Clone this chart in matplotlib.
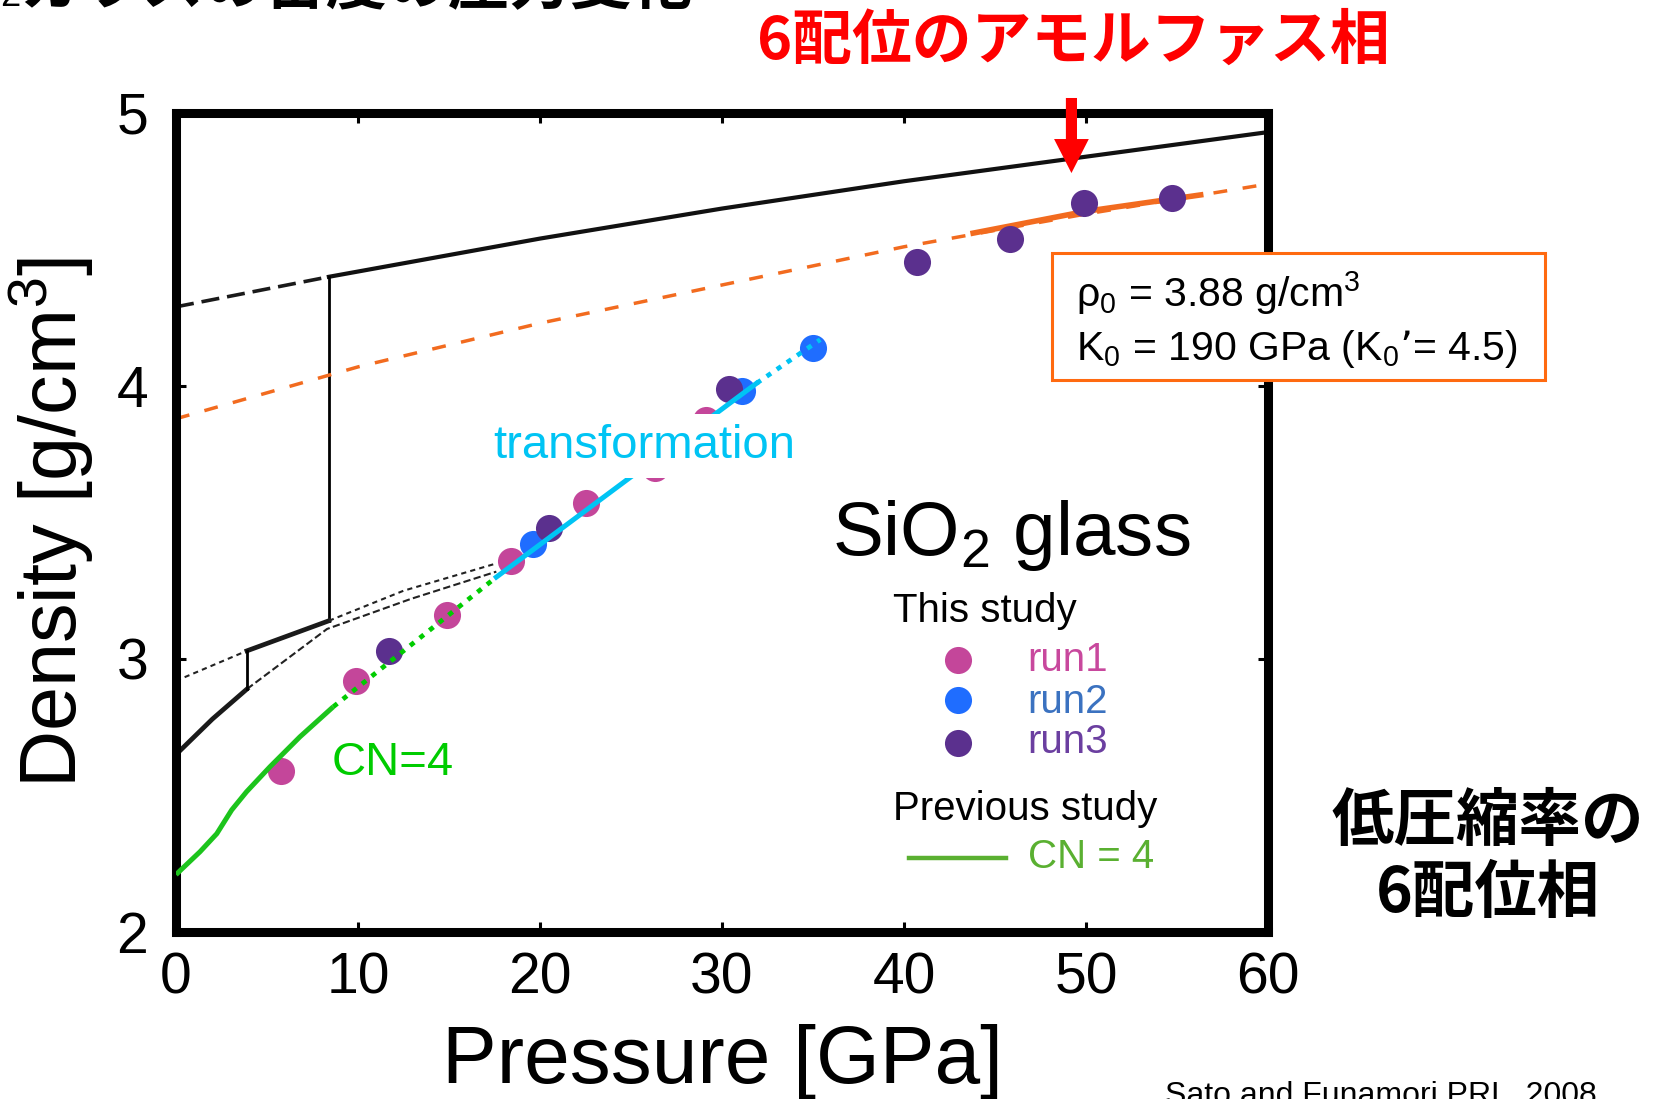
import matplotlib
matplotlib.use("Agg")
import matplotlib.pyplot as plt
from matplotlib.patches import Rectangle

plt.rcParams['font.family'] = ['Liberation Sans', 'Noto Sans CJK JP', 'DejaVu Sans']
plt.rcParams['mathtext.default'] = 'regular'

# ---- data ----
# this study, pressure [GPa] / density [g/cm3]
run1_p = [5.75, 9.9, 14.9, 18.4, 22.5, 26.3, 29.1]
run1_rho = [2.59, 2.92, 3.16, 3.36, 3.57, 3.70, 3.875]
run2_p = [19.6, 31.1, 35.0]
run2_rho = [3.42, 3.98, 4.14]
run3_p = [11.7, 20.5, 30.4, 40.7, 45.8, 49.9, 54.7]
run3_rho = [3.03, 3.48, 3.99, 4.455, 4.54, 4.67, 4.69]

# previous study CN=4 (solid) and its extension (dotted)
cn4_p = [0, 0.26, 1.32, 2.24, 3.06, 3.88, 5.16, 6.81, 8.64]
cn4_rho = [2.21, 2.227, 2.294, 2.36, 2.447, 2.514, 2.605, 2.715, 2.825]
cn4_ext_p = [8.64, 17.6]
cn4_ext_rho = [2.825, 3.30]

# transformation line
trans_p = [17.6, 31.9]
trans_rho = [3.30, 4.01]
trans_ext_p = [31.9, 35.4]
trans_ext_rho = [4.01, 4.17]

# 6-fold amorphous EOS (rho0 = 3.88, K0 = 190)
eos_p = [0, 10, 20, 30, 40, 50, 60]
eos_rho = [3.88, 4.07, 4.23, 4.37, 4.51, 4.63, 4.74]
eos_fit_p = [43.8, 50, 56.3]
eos_fit_rho = [4.56, 4.64, 4.70]

# black reference curves
top_dash_p = [0, 8.4]
top_dash_rho = [4.29, 4.40]
top_p = [8.4, 20, 30, 40, 50, 60]
top_rho = [4.40, 4.54, 4.65, 4.75, 4.84, 4.93]
jump_hi_p = [8.4, 8.4]
jump_hi_rho = [3.14, 4.40]

a_dash1_p = [0, 3.9]
a_dash1_rho = [2.92, 3.03]
a_solid_p = [3.9, 8.4]
a_solid_rho = [3.03, 3.14]
a_dash2_p = [8.4, 12.5, 17.6]
a_dash2_rho = [3.14, 3.25, 3.35]

b_solid_p = [0, 2.0, 3.9]
b_solid_rho = [2.65, 2.78, 2.89]
b_dash_p = [3.9, 8.3, 12.9, 17.6]
b_dash_rho = [2.89, 3.11, 3.22, 3.32]
jump_lo_p = [3.9, 3.9]
jump_lo_rho = [2.89, 3.03]

arrow_p = 49.2
arrow_rho = (4.78, 5.055)

# ---- colours ----
c_run1 = '#C4469A'
c_run2 = '#1F6DFF'
c_run3 = '#5B308E'
c_green = '#1CC41C'
c_cyan = '#00C4F4'
c_orange = '#F26B1F'

W, H = 1667, 1099


def fx(x):
    return x / W


def fy(y):
    return 1 - y / H


fig = plt.figure(figsize=(W / 100, H / 100), dpi=100)
ax = fig.add_axes([176 / W, 1 - 932 / H, 1092 / W, 819 / H])

# black curves
ax.plot(top_dash_p, top_dash_rho, color='#1a1a1a', lw=2.6, dashes=(5, 2.2))
ax.plot(top_p, top_rho, color='#111111', lw=3.0)
ax.plot(jump_hi_p, jump_hi_rho, color='black', lw=2.0)
ax.plot(a_dash1_p, a_dash1_rho, color='#222222', lw=1.5, dashes=(2.5, 2))
ax.plot(a_solid_p, a_solid_rho, color='#1a1a1a', lw=3.4)
ax.plot(a_dash2_p, a_dash2_rho, color='#222222', lw=1.5, dashes=(2.5, 2))
ax.plot(b_solid_p, b_solid_rho, color='#1a1a1a', lw=3.4)
ax.plot(b_dash_p, b_dash_rho, color='#222222', lw=1.5, dashes=(3.5, 1.6))
ax.plot(jump_lo_p, jump_lo_rho, color='black', lw=2.0)

# orange EOS
ax.plot(eos_p, eos_rho, color=c_orange, lw=2.5, dashes=(4, 4.5))
ax.plot(eos_fit_p, eos_fit_rho, color=c_orange, lw=4.0)

# data points
ms = 19.5
ax.plot(run1_p, run1_rho, 'o', color=c_run1, ms=ms, mec='none', zorder=3)
ax.plot(run2_p, run2_rho, 'o', color=c_run2, ms=ms, mec='none', zorder=3)
ax.plot(run3_p, run3_rho, 'o', color=c_run3, ms=ms, mec='none', zorder=3)

# green and cyan lines on top of the points
ax.plot(cn4_p, cn4_rho, color=c_green, lw=3.6, solid_capstyle='butt', zorder=4)
ax.plot(cn4_ext_p, cn4_ext_rho, color='#00CC00', lw=3.4, dashes=(1.1, 1.5), zorder=4)
ax.plot(trans_p, trans_rho, color=c_cyan, lw=3.6, zorder=4)
ax.plot(trans_ext_p, trans_ext_rho, color=c_cyan, lw=3.4, dashes=(1.1, 1.5), zorder=4)

ax.text(25.74, 3.78, 'transformation', color=c_cyan, fontsize=34, ha='center', va='center',
        zorder=5, bbox=dict(boxstyle='square,pad=0.22', fc='white', ec='none'))
ax.text(8.57, 2.62, 'CN=4', color='#00CC00', fontsize=34, ha='left', va='center', zorder=5)

ax.annotate('', xy=(arrow_p, arrow_rho[0]), xytext=(arrow_p, arrow_rho[1]),
            annotation_clip=False,
            arrowprops=dict(arrowstyle='simple,head_length=0.98,head_width=1.0,tail_width=0.32',
                            mutation_scale=25, color='#FF0000', lw=0, shrinkA=0, shrinkB=0))

# axes styling
ax.set_xlim(0, 60)
ax.set_ylim(2, 5)
ax.set_xticks(range(0, 61, 10))
ax.set_xticks(range(5, 60, 10), minor=True)
ax.set_yticks([2, 3, 4, 5])
ax.set_yticks([2.5, 3.5, 4.5], minor=True)
for s in ax.spines.values():
    s.set_linewidth(6.5)
ax.tick_params(which='both', direction='in', top=True, right=True, labelsize=41)
ax.tick_params(which='major', length=7, width=2.2)
ax.tick_params(which='minor', length=3, width=1.6)
ax.tick_params(axis='x', pad=14)
ax.tick_params(axis='y', pad=20)

ax.set_xlabel('Pressure [GPa]', fontsize=59)
ax.xaxis.label.set_va('center')
ax.xaxis.set_label_coords(0.5, (932 - 1062) / 819)
ax.set_ylabel('Density [g/cm$^3$]', fontsize=57)
ax.yaxis.label.set_va('center')
ax.yaxis.set_label_coords((51 - 176) / 1092, 0.5)

# SiO2 glass title and legend
fig.text(fx(832), fy(555), 'SiO$_2$ glass', fontsize=55, ha='left', va='baseline')
fig.text(fx(893), fy(621.7), 'This study', fontsize=29, ha='left', va='baseline')
leg_runs = [('run1', c_run1, '#C8489D', 660, 671), ('run2', c_run2, '#3B72C0', 700, 712.7),
            ('run3', c_run3, '#6B3FA0', 743, 753)]
for label, mcol, tcol, my, ty in leg_runs:
    fig.add_artist(plt.Line2D([fx(958)], [fy(my)], marker='o', ms=19.5, color=mcol,
                              mec='none', transform=fig.transFigure))
    fig.text(fx(1027), fy(ty), label, color=tcol, fontsize=29, ha='left', va='baseline')
fig.text(fx(893), fy(820), 'Previous study', fontsize=29, ha='left', va='baseline')
fig.add_artist(plt.Line2D([fx(909), fx(1006)], [fy(858), fy(858)], color='#5AB031', lw=3.2,
                          transform=fig.transFigure))
fig.text(fx(1028), fy(868), 'CN = 4', color='#5AB031', fontsize=29, ha='left', va='baseline')

# parameter box (white, covers the right spine)
fig.add_artist(Rectangle((fx(1052), fy(380)), 493 / W, 127 / H, transform=fig.transFigure,
                         fc='white', ec='#FF6A10', lw=2.2, zorder=2))
fig.text(fx(1076), fy(307), 'ρ$_0$ = 3.88 g/cm$^3$', fontsize=29.5, ha='left', va='baseline',
         zorder=3)
fig.text(fx(1076), fy(360), 'K$_0$ = 190 GPa (K$_0$’= 4.5)', fontsize=29.5, ha='left',
         va='baseline', zorder=3)

# slide texts
jp = 'Noto Sans CJK JP'
fig.text(fx(20), fy(16), 'ガラスの密度の圧力変化', family=jp, fontsize=44, fontweight='bold',
         ha='left', va='bottom')
fig.text(fx(0), fy(14), '2', fontsize=26, ha='left', va='bottom')
fig.text(fx(1073), fy(42), '6配位のアモルファス相', family=jp, fontsize=43, fontweight='bold',
         color='#FF0000', ha='center', va='center')
fig.text(fx(1488), fy(822), '低圧縮率の', family=jp, fontsize=45, fontweight='bold',
         ha='center', va='center')
fig.text(fx(1488), fy(893), '6配位相', family=jp, fontsize=45, fontweight='bold',
         ha='center', va='center')
fig.text(fx(1165), fy(1104), 'Sato and Funamori PRL  2008', fontsize=23, ha='left', va='baseline')

fig.savefig('out.png', dpi=100)
